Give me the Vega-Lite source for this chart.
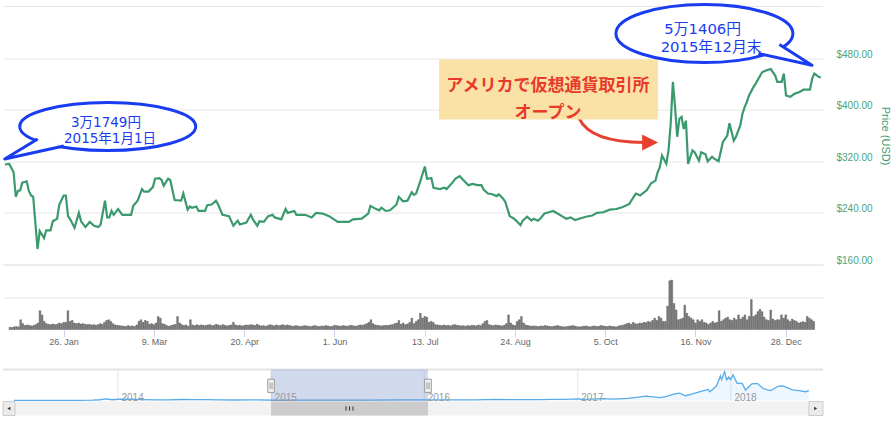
{
"$schema": "https://vega.github.io/schema/vega-lite/v6.json",
"padding": {"left": 0, "top": 2.5, "right": 0, "bottom": 0},
"background": "white",
"config": {"view": {"stroke": null}, "font": "Liberation Sans"},
"datasets": {
"price": [
{"t":"2015-01-01","p":315},{"t":"2015-01-03","p":316},{"t":"2015-01-05","p":303},{"t":"2015-01-06","p":265},{"t":"2015-01-07","p":274},{"t":"2015-01-08","p":275},{"t":"2015-01-09","p":287},{"t":"2015-01-11","p":289},{"t":"2015-01-12","p":274},{"t":"2015-01-13","p":267},{"t":"2015-01-14","p":265},{"t":"2015-01-16","p":184},{"t":"2015-01-17","p":212},{"t":"2015-01-19","p":201},{"t":"2015-01-20","p":213},{"t":"2015-01-22","p":213},{"t":"2015-01-23","p":227},{"t":"2015-01-25","p":231},{"t":"2015-01-26","p":253},{"t":"2015-01-28","p":267},{"t":"2015-01-29","p":267},{"t":"2015-01-30","p":235},{"t":"2015-01-31","p":230},
{"t":"2015-02-02","p":217},{"t":"2015-02-04","p":240},{"t":"2015-02-05","p":227},{"t":"2015-02-07","p":218},{"t":"2015-02-09","p":226},{"t":"2015-02-11","p":220},{"t":"2015-02-13","p":218},{"t":"2015-02-14","p":222},{"t":"2015-02-16","p":259},{"t":"2015-02-17","p":233},{"t":"2015-02-18","p":233},{"t":"2015-02-19","p":243},{"t":"2015-02-20","p":237},{"t":"2015-02-22","p":246},{"t":"2015-02-24","p":237},{"t":"2015-02-28","p":237},
{"t":"2015-03-01","p":251},{"t":"2015-03-03","p":259},{"t":"2015-03-05","p":277},{"t":"2015-03-06","p":273},{"t":"2015-03-08","p":273},{"t":"2015-03-10","p":280},{"t":"2015-03-11","p":293},{"t":"2015-03-13","p":294},{"t":"2015-03-14","p":291},{"t":"2015-03-15","p":282},{"t":"2015-03-17","p":293},{"t":"2015-03-18","p":291},{"t":"2015-03-20","p":260},{"t":"2015-03-23","p":259},{"t":"2015-03-24","p":270},{"t":"2015-03-26","p":245},{"t":"2015-03-27","p":250},{"t":"2015-03-28","p":248},{"t":"2015-03-30","p":250},{"t":"2015-03-31","p":243},
{"t":"2015-04-03","p":243},{"t":"2015-04-04","p":252},{"t":"2015-04-06","p":253},{"t":"2015-04-08","p":259},{"t":"2015-04-09","p":253},{"t":"2015-04-11","p":237},{"t":"2015-04-14","p":235},{"t":"2015-04-16","p":220},{"t":"2015-04-18","p":228},{"t":"2015-04-19","p":222},{"t":"2015-04-22","p":225},{"t":"2015-04-24","p":237},{"t":"2015-04-25","p":230},{"t":"2015-04-27","p":220},{"t":"2015-04-28","p":227},{"t":"2015-04-30","p":226},
{"t":"2015-05-02","p":235},{"t":"2015-05-04","p":237},{"t":"2015-05-05","p":233},{"t":"2015-05-08","p":230},{"t":"2015-05-10","p":246},{"t":"2015-05-11","p":240},{"t":"2015-05-14","p":243},{"t":"2015-05-15","p":237},{"t":"2015-05-19","p":237},{"t":"2015-05-22","p":233},{"t":"2015-05-24","p":240},{"t":"2015-05-27","p":239},{"t":"2015-05-30","p":235},
{"t":"2015-06-03","p":226},{"t":"2015-06-08","p":226},{"t":"2015-06-10","p":230},{"t":"2015-06-14","p":231},{"t":"2015-06-17","p":239},{"t":"2015-06-18","p":251},{"t":"2015-06-20","p":247},{"t":"2015-06-22","p":244},{"t":"2015-06-23","p":248},{"t":"2015-06-25","p":243},{"t":"2015-06-27","p":244},{"t":"2015-06-30","p":253},
{"t":"2015-07-01","p":265},{"t":"2015-07-03","p":258},{"t":"2015-07-05","p":259},{"t":"2015-07-07","p":272},{"t":"2015-07-08","p":268},{"t":"2015-07-09","p":270},{"t":"2015-07-11","p":290},{"t":"2015-07-13","p":312},{"t":"2015-07-14","p":293},{"t":"2015-07-16","p":294},{"t":"2015-07-17","p":279},{"t":"2015-07-20","p":277},{"t":"2015-07-22","p":279},{"t":"2015-07-23","p":277},{"t":"2015-07-26","p":288},{"t":"2015-07-27","p":293},{"t":"2015-07-29","p":297},{"t":"2015-07-31","p":290},
{"t":"2015-08-02","p":283},{"t":"2015-08-04","p":285},{"t":"2015-08-06","p":283},{"t":"2015-08-08","p":283},{"t":"2015-08-09","p":276},{"t":"2015-08-11","p":270},{"t":"2015-08-13","p":269},{"t":"2015-08-15","p":266},{"t":"2015-08-16","p":269},{"t":"2015-08-18","p":262},{"t":"2015-08-19","p":257},{"t":"2015-08-21","p":235},{"t":"2015-08-23","p":231},{"t":"2015-08-24","p":228},{"t":"2015-08-26","p":221},{"t":"2015-08-27","p":228},{"t":"2015-08-29","p":234},{"t":"2015-08-31","p":228},
{"t":"2015-09-01","p":231},{"t":"2015-09-03","p":228},{"t":"2015-09-04","p":231},{"t":"2015-09-06","p":239},{"t":"2015-09-08","p":241},{"t":"2015-09-10","p":243},{"t":"2015-09-12","p":239},{"t":"2015-09-14","p":235},{"t":"2015-09-16","p":231},{"t":"2015-09-18","p":233},{"t":"2015-09-20","p":229},{"t":"2015-09-22","p":231},{"t":"2015-09-25","p":234},{"t":"2015-09-28","p":236},{"t":"2015-09-30","p":240},
{"t":"2015-10-03","p":241},{"t":"2015-10-06","p":245},{"t":"2015-10-09","p":246},{"t":"2015-10-12","p":249},{"t":"2015-10-15","p":254},{"t":"2015-10-17","p":265},{"t":"2015-10-18","p":270},{"t":"2015-10-20","p":267},{"t":"2015-10-21","p":270},{"t":"2015-10-23","p":275},{"t":"2015-10-25","p":286},{"t":"2015-10-27","p":290},{"t":"2015-10-28","p":303},{"t":"2015-10-29","p":311},{"t":"2015-10-30","p":329},
{"t":"2015-11-01","p":316},{"t":"2015-11-02","p":337},{"t":"2015-11-03","p":378},{"t":"2015-11-04","p":443},{"t":"2015-11-05","p":404},{"t":"2015-11-06","p":358},{"t":"2015-11-07","p":386},{"t":"2015-11-08","p":389},{"t":"2015-11-09","p":370},{"t":"2015-11-10","p":383},{"t":"2015-11-11","p":316},{"t":"2015-11-13","p":337},{"t":"2015-11-14","p":334},{"t":"2015-11-16","p":321},{"t":"2015-11-17","p":334},{"t":"2015-11-19","p":331},{"t":"2015-11-20","p":320},{"t":"2015-11-22","p":327},{"t":"2015-11-23","p":324},{"t":"2015-11-25","p":320},{"t":"2015-11-27","p":350},{"t":"2015-11-29","p":360},{"t":"2015-11-30","p":379},
{"t":"2015-12-02","p":352},{"t":"2015-12-03","p":358},{"t":"2015-12-05","p":376},{"t":"2015-12-06","p":394},{"t":"2015-12-07","p":404},{"t":"2015-12-08","p":412},{"t":"2015-12-09","p":422},{"t":"2015-12-11","p":435},{"t":"2015-12-12","p":440},{"t":"2015-12-15","p":458},{"t":"2015-12-17","p":461},{"t":"2015-12-19","p":463},{"t":"2015-12-21","p":453},{"t":"2015-12-22","p":443},{"t":"2015-12-24","p":443},{"t":"2015-12-25","p":456},{"t":"2015-12-26","p":422},{"t":"2015-12-28","p":420},{"t":"2015-12-30","p":425},
{"t":"2016-01-01","p":427},{"t":"2016-01-03","p":431},{"t":"2016-01-06","p":431},{"t":"2016-01-07","p":448},{"t":"2016-01-08","p":456},{"t":"2016-01-10","p":451},{"t":"2016-01-11","p":450}
],
"vol": [
{"t":"2015-01-01","v":7},{"t":"2015-01-02","v":6},{"t":"2015-01-03","v":8},{"t":"2015-01-04","v":9},{"t":"2015-01-05","v":8},{"t":"2015-01-06","v":30},{"t":"2015-01-07","v":18},{"t":"2015-01-08","v":12},{"t":"2015-01-09","v":14},{"t":"2015-01-10","v":13},{"t":"2015-01-11","v":11},{"t":"2015-01-12","v":12},{"t":"2015-01-13","v":15},{"t":"2015-01-14","v":20},{"t":"2015-01-15","v":58},{"t":"2015-01-16","v":45},{"t":"2015-01-17","v":25},{"t":"2015-01-18","v":18},{"t":"2015-01-19","v":16},{"t":"2015-01-20","v":15},{"t":"2015-01-21","v":17},{"t":"2015-01-22","v":15},{"t":"2015-01-23","v":16},{"t":"2015-01-24","v":20},{"t":"2015-01-25","v":18},{"t":"2015-01-26","v":22},{"t":"2015-01-27","v":22},{"t":"2015-01-28","v":58},{"t":"2015-01-29","v":25},{"t":"2015-01-30","v":28},{"t":"2015-01-31","v":20},
{"t":"2015-02-01","v":18},{"t":"2015-02-02","v":20},{"t":"2015-02-03","v":17},{"t":"2015-02-04","v":18},{"t":"2015-02-05","v":16},{"t":"2015-02-06","v":15},{"t":"2015-02-07","v":16},{"t":"2015-02-08","v":14},{"t":"2015-02-09","v":15},{"t":"2015-02-10","v":13},{"t":"2015-02-11","v":15},{"t":"2015-02-12","v":18},{"t":"2015-02-13","v":16},{"t":"2015-02-14","v":22},{"t":"2015-02-15","v":28},{"t":"2015-02-16","v":30},{"t":"2015-02-17","v":25},{"t":"2015-02-18","v":18},{"t":"2015-02-19","v":14},{"t":"2015-02-20","v":13},{"t":"2015-02-21","v":12},{"t":"2015-02-22","v":11},{"t":"2015-02-23","v":10},{"t":"2015-02-24","v":9},{"t":"2015-02-25","v":12},{"t":"2015-02-26","v":10},{"t":"2015-02-27","v":11},{"t":"2015-02-28","v":9},
{"t":"2015-03-01","v":14},{"t":"2015-03-02","v":25},{"t":"2015-03-03","v":30},{"t":"2015-03-04","v":22},{"t":"2015-03-05","v":28},{"t":"2015-03-06","v":25},{"t":"2015-03-07","v":16},{"t":"2015-03-08","v":18},{"t":"2015-03-09","v":15},{"t":"2015-03-10","v":20},{"t":"2015-03-11","v":40},{"t":"2015-03-12","v":35},{"t":"2015-03-13","v":18},{"t":"2015-03-14","v":16},{"t":"2015-03-15","v":12},{"t":"2015-03-16","v":10},{"t":"2015-03-17","v":12},{"t":"2015-03-18","v":14},{"t":"2015-03-19","v":16},{"t":"2015-03-20","v":40},{"t":"2015-03-21","v":20},{"t":"2015-03-22","v":15},{"t":"2015-03-23","v":12},{"t":"2015-03-24","v":14},{"t":"2015-03-25","v":10},{"t":"2015-03-26","v":30},{"t":"2015-03-27","v":14},{"t":"2015-03-28","v":12},{"t":"2015-03-29","v":15},{"t":"2015-03-30","v":12},{"t":"2015-03-31","v":14},
{"t":"2015-04-01","v":13},{"t":"2015-04-02","v":12},{"t":"2015-04-03","v":14},{"t":"2015-04-04","v":15},{"t":"2015-04-05","v":12},{"t":"2015-04-06","v":13},{"t":"2015-04-07","v":16},{"t":"2015-04-08","v":14},{"t":"2015-04-09","v":12},{"t":"2015-04-10","v":15},{"t":"2015-04-11","v":13},{"t":"2015-04-12","v":11},{"t":"2015-04-13","v":12},{"t":"2015-04-14","v":14},{"t":"2015-04-15","v":22},{"t":"2015-04-16","v":14},{"t":"2015-04-17","v":12},{"t":"2015-04-18","v":13},{"t":"2015-04-19","v":11},{"t":"2015-04-20","v":12},{"t":"2015-04-21","v":14},{"t":"2015-04-22","v":13},{"t":"2015-04-23","v":15},{"t":"2015-04-24","v":14},{"t":"2015-04-25","v":12},{"t":"2015-04-26","v":16},{"t":"2015-04-27","v":13},{"t":"2015-04-28","v":11},{"t":"2015-04-29","v":12},{"t":"2015-04-30","v":10},
{"t":"2015-05-01","v":12},{"t":"2015-05-02","v":15},{"t":"2015-05-03","v":13},{"t":"2015-05-04","v":11},{"t":"2015-05-05","v":14},{"t":"2015-05-06","v":12},{"t":"2015-05-07","v":13},{"t":"2015-05-08","v":15},{"t":"2015-05-09","v":12},{"t":"2015-05-10","v":14},{"t":"2015-05-11","v":13},{"t":"2015-05-12","v":11},{"t":"2015-05-13","v":10},{"t":"2015-05-14","v":12},{"t":"2015-05-15","v":11},{"t":"2015-05-16","v":9},{"t":"2015-05-17","v":10},{"t":"2015-05-18","v":12},{"t":"2015-05-19","v":11},{"t":"2015-05-20","v":10},{"t":"2015-05-21","v":9},{"t":"2015-05-22","v":11},{"t":"2015-05-23","v":12},{"t":"2015-05-24","v":10},{"t":"2015-05-25","v":9},{"t":"2015-05-26","v":11},{"t":"2015-05-27","v":10},{"t":"2015-05-28","v":12},{"t":"2015-05-29","v":11},{"t":"2015-05-30","v":9},{"t":"2015-05-31","v":10},
{"t":"2015-06-01","v":13},{"t":"2015-06-02","v":12},{"t":"2015-06-03","v":11},{"t":"2015-06-04","v":10},{"t":"2015-06-05","v":12},{"t":"2015-06-06","v":11},{"t":"2015-06-07","v":10},{"t":"2015-06-08","v":12},{"t":"2015-06-09","v":13},{"t":"2015-06-10","v":11},{"t":"2015-06-11","v":10},{"t":"2015-06-12","v":12},{"t":"2015-06-13","v":14},{"t":"2015-06-14","v":13},{"t":"2015-06-15","v":15},{"t":"2015-06-16","v":18},{"t":"2015-06-17","v":22},{"t":"2015-06-18","v":30},{"t":"2015-06-19","v":18},{"t":"2015-06-20","v":14},{"t":"2015-06-21","v":13},{"t":"2015-06-22","v":12},{"t":"2015-06-23","v":11},{"t":"2015-06-24","v":12},{"t":"2015-06-25","v":13},{"t":"2015-06-26","v":12},{"t":"2015-06-27","v":14},{"t":"2015-06-28","v":15},{"t":"2015-06-29","v":18},{"t":"2015-06-30","v":20},
{"t":"2015-07-01","v":28},{"t":"2015-07-02","v":16},{"t":"2015-07-03","v":20},{"t":"2015-07-04","v":15},{"t":"2015-07-05","v":17},{"t":"2015-07-06","v":22},{"t":"2015-07-07","v":35},{"t":"2015-07-08","v":18},{"t":"2015-07-09","v":25},{"t":"2015-07-10","v":30},{"t":"2015-07-11","v":50},{"t":"2015-07-12","v":35},{"t":"2015-07-13","v":40},{"t":"2015-07-14","v":38},{"t":"2015-07-15","v":22},{"t":"2015-07-16","v":25},{"t":"2015-07-17","v":22},{"t":"2015-07-18","v":15},{"t":"2015-07-19","v":14},{"t":"2015-07-20","v":13},{"t":"2015-07-21","v":12},{"t":"2015-07-22","v":14},{"t":"2015-07-23","v":12},{"t":"2015-07-24","v":13},{"t":"2015-07-25","v":11},{"t":"2015-07-26","v":14},{"t":"2015-07-27","v":15},{"t":"2015-07-28","v":13},{"t":"2015-07-29","v":12},{"t":"2015-07-30","v":11},{"t":"2015-07-31","v":12},
{"t":"2015-08-01","v":10},{"t":"2015-08-02","v":12},{"t":"2015-08-03","v":11},{"t":"2015-08-04","v":13},{"t":"2015-08-05","v":12},{"t":"2015-08-06","v":11},{"t":"2015-08-07","v":14},{"t":"2015-08-08","v":12},{"t":"2015-08-09","v":18},{"t":"2015-08-10","v":25},{"t":"2015-08-11","v":28},{"t":"2015-08-12","v":15},{"t":"2015-08-13","v":13},{"t":"2015-08-14","v":12},{"t":"2015-08-15","v":14},{"t":"2015-08-16","v":13},{"t":"2015-08-17","v":12},{"t":"2015-08-18","v":11},{"t":"2015-08-19","v":13},{"t":"2015-08-20","v":18},{"t":"2015-08-21","v":45},{"t":"2015-08-22","v":20},{"t":"2015-08-23","v":14},{"t":"2015-08-24","v":12},{"t":"2015-08-25","v":25},{"t":"2015-08-26","v":30},{"t":"2015-08-27","v":40},{"t":"2015-08-28","v":20},{"t":"2015-08-29","v":14},{"t":"2015-08-30","v":12},{"t":"2015-08-31","v":11},
{"t":"2015-09-01","v":10},{"t":"2015-09-02","v":11},{"t":"2015-09-03","v":10},{"t":"2015-09-04","v":9},{"t":"2015-09-05","v":11},{"t":"2015-09-06","v":10},{"t":"2015-09-07","v":12},{"t":"2015-09-08","v":11},{"t":"2015-09-09","v":10},{"t":"2015-09-10","v":9},{"t":"2015-09-11","v":10},{"t":"2015-09-12","v":11},{"t":"2015-09-13","v":12},{"t":"2015-09-14","v":10},{"t":"2015-09-15","v":9},{"t":"2015-09-16","v":8},{"t":"2015-09-17","v":9},{"t":"2015-09-18","v":10},{"t":"2015-09-19","v":11},{"t":"2015-09-20","v":12},{"t":"2015-09-21","v":10},{"t":"2015-09-22","v":9},{"t":"2015-09-23","v":8},{"t":"2015-09-24","v":9},{"t":"2015-09-25","v":10},{"t":"2015-09-26","v":11},{"t":"2015-09-27","v":9},{"t":"2015-09-28","v":8},{"t":"2015-09-29","v":10},{"t":"2015-09-30","v":11},
{"t":"2015-10-01","v":9},{"t":"2015-10-02","v":10},{"t":"2015-10-03","v":12},{"t":"2015-10-04","v":11},{"t":"2015-10-05","v":10},{"t":"2015-10-06","v":9},{"t":"2015-10-07","v":11},{"t":"2015-10-08","v":10},{"t":"2015-10-09","v":9},{"t":"2015-10-10","v":8},{"t":"2015-10-11","v":10},{"t":"2015-10-12","v":12},{"t":"2015-10-13","v":13},{"t":"2015-10-14","v":15},{"t":"2015-10-15","v":18},{"t":"2015-10-16","v":20},{"t":"2015-10-17","v":16},{"t":"2015-10-18","v":22},{"t":"2015-10-19","v":18},{"t":"2015-10-20","v":17},{"t":"2015-10-21","v":20},{"t":"2015-10-22","v":19},{"t":"2015-10-23","v":22},{"t":"2015-10-24","v":21},{"t":"2015-10-25","v":25},{"t":"2015-10-26","v":23},{"t":"2015-10-27","v":28},{"t":"2015-10-28","v":35},{"t":"2015-10-29","v":28},{"t":"2015-10-30","v":40},{"t":"2015-10-31","v":35},
{"t":"2015-11-01","v":25},{"t":"2015-11-02","v":25},{"t":"2015-11-03","v":72},{"t":"2015-11-04","v":150},{"t":"2015-11-05","v":152},{"t":"2015-11-06","v":80},{"t":"2015-11-07","v":60},{"t":"2015-11-08","v":30},{"t":"2015-11-09","v":32},{"t":"2015-11-10","v":35},{"t":"2015-11-11","v":75},{"t":"2015-11-12","v":50},{"t":"2015-11-13","v":40},{"t":"2015-11-14","v":35},{"t":"2015-11-15","v":30},{"t":"2015-11-16","v":20},{"t":"2015-11-17","v":30},{"t":"2015-11-18","v":25},{"t":"2015-11-19","v":30},{"t":"2015-11-20","v":22},{"t":"2015-11-21","v":20},{"t":"2015-11-22","v":15},{"t":"2015-11-23","v":20},{"t":"2015-11-24","v":25},{"t":"2015-11-25","v":20},{"t":"2015-11-26","v":22},{"t":"2015-11-27","v":58},{"t":"2015-11-28","v":25},{"t":"2015-11-29","v":30},{"t":"2015-11-30","v":35},
{"t":"2015-12-01","v":38},{"t":"2015-12-02","v":30},{"t":"2015-12-03","v":28},{"t":"2015-12-04","v":35},{"t":"2015-12-05","v":30},{"t":"2015-12-06","v":45},{"t":"2015-12-07","v":32},{"t":"2015-12-08","v":38},{"t":"2015-12-09","v":45},{"t":"2015-12-10","v":30},{"t":"2015-12-11","v":40},{"t":"2015-12-12","v":92},{"t":"2015-12-13","v":40},{"t":"2015-12-14","v":45},{"t":"2015-12-15","v":55},{"t":"2015-12-16","v":62},{"t":"2015-12-17","v":55},{"t":"2015-12-18","v":38},{"t":"2015-12-19","v":30},{"t":"2015-12-20","v":28},{"t":"2015-12-21","v":60},{"t":"2015-12-22","v":32},{"t":"2015-12-23","v":28},{"t":"2015-12-24","v":30},{"t":"2015-12-25","v":30},{"t":"2015-12-26","v":45},{"t":"2015-12-27","v":35},{"t":"2015-12-28","v":45},{"t":"2015-12-29","v":30},{"t":"2015-12-30","v":25},{"t":"2015-12-31","v":32},
{"t":"2016-01-01","v":28},{"t":"2016-01-02","v":25},{"t":"2016-01-03","v":20},{"t":"2016-01-04","v":22},{"t":"2016-01-05","v":24},{"t":"2016-01-06","v":22},{"t":"2016-01-07","v":40},{"t":"2016-01-08","v":35},{"t":"2016-01-09","v":30},{"t":"2016-01-10","v":25}
],
"nav": [
{"t":"2013-04-28","p":135},{"t":"2013-06-01","p":122},{"t":"2013-07-05","p":68},{"t":"2013-08-01","p":105},{"t":"2013-09-01","p":140},{"t":"2013-10-01","p":125},{"t":"2013-11-01","p":206},{"t":"2013-11-18","p":500},{"t":"2013-12-04","p":1150},{"t":"2013-12-18","p":520},{"t":"2014-01-05","p":950},{"t":"2014-02-01","p":830},{"t":"2014-03-01","p":560},{"t":"2014-04-10","p":360},{"t":"2014-05-01","p":450},{"t":"2014-06-03","p":660},{"t":"2014-07-01","p":640},{"t":"2014-08-01","p":590},{"t":"2014-09-01","p":480},{"t":"2014-10-05","p":320},{"t":"2014-11-12","p":420},{"t":"2014-12-01","p":380},{"t":"2015-01-14","p":180},{"t":"2015-03-10","p":290},{"t":"2015-06-01","p":230},{"t":"2015-07-12","p":310},{"t":"2015-08-24","p":210},{"t":"2015-11-04","p":400},{"t":"2015-12-16","p":460},{"t":"2016-02-01","p":370},{"t":"2016-03-01","p":430},{"t":"2016-05-01","p":450},{"t":"2016-06-17","p":750},{"t":"2016-08-02","p":540},{"t":"2016-10-01","p":610},{"t":"2016-11-01","p":730},{"t":"2016-12-01","p":750},{"t":"2017-01-04","p":1150},{"t":"2017-01-11","p":780},{"t":"2017-02-01","p":990},{"t":"2017-03-03","p":1280},{"t":"2017-03-25","p":930},{"t":"2017-05-01","p":1420},{"t":"2017-05-25","p":2300},{"t":"2017-06-12","p":2950},{"t":"2017-07-16","p":1930},{"t":"2017-08-01","p":2750},{"t":"2017-08-17","p":4300},{"t":"2017-09-01","p":4900},{"t":"2017-09-15","p":3200},{"t":"2017-10-01","p":4400},{"t":"2017-10-20","p":6000},{"t":"2017-11-08","p":7400},{"t":"2017-11-12","p":5900},{"t":"2017-11-28","p":9900},{"t":"2017-12-07","p":16500},{"t":"2017-12-10","p":14000},{"t":"2017-12-17","p":19500},{"t":"2017-12-22","p":13800},{"t":"2017-12-27","p":15800},{"t":"2017-12-31","p":14000},{"t":"2018-01-06","p":17200},{"t":"2018-01-16","p":11500},{"t":"2018-01-28","p":11500},{"t":"2018-02-05","p":7000},{"t":"2018-02-20","p":11200},{"t":"2018-03-05","p":11500},{"t":"2018-03-18","p":8200},{"t":"2018-03-31","p":6900},{"t":"2018-04-06","p":6600},{"t":"2018-04-24","p":9700},{"t":"2018-05-05","p":9800},{"t":"2018-05-28","p":7100},{"t":"2018-06-12","p":6600},{"t":"2018-06-28","p":5900},{"t":"2018-07-06","p":6700}
],
"years": [
{"d":"2014-01-01","l":"2014"},{"d":"2015-01-01","l":"2015"},{"d":"2016-01-01","l":"2016"},{"d":"2017-01-01","l":"2017"},{"d":"2018-01-01","l":"2018"}
]
},
"vconcat": [
{
"width": 820, "height": 258,
"layer": [
{"data": {"name": "price"},
 "mark": {"type": "line", "color": "#3b9a6d", "strokeWidth": 2.2},
 "encoding": {
  "x": {"field": "t", "type": "temporal", "scale": {"domain": [{"year":2014,"month":12,"date":31,"hours":3},{"year":2016,"month":1,"date":12}]}, "axis": null},
  "y": {"field": "p", "type": "quantitative", "scale": {"domain": [160, 560], "nice": false},
   "axis": {"orient": "right", "values": [160,240,320,400,480], "format": "$.2f", "grid": true, "gridColor": "#e6e6e6", "domain": false, "ticks": false, "labelPadding": 13, "labelFontSize": 10, "labelColor": "#4aa57c", "labelBaseline": "alphabetic", "labelOffset": -1, "labelFlush": false, "title": "Price (USD)", "titleColor": "#3f9c72", "titleFontSize": 11, "titleFontWeight": "normal", "titlePadding": 7}}
 }},
{"data": {"values": [{}]},
 "mark": {"type": "rule", "color": "#e6e6e6", "strokeWidth": 1},
 "encoding": {"y": {"datum": 560, "type": "quantitative"}}},
{"data": {"values": [{}]},
 "mark": {"type": "point", "shape": "M-0.37,-0.14C-0.30,0.01,-0.10,0.10,0.28,0.10", "size": 40000, "filled": false, "color": "#e8402f", "strokeWidth": 3, "opacity": 1},
 "encoding": {"x": {"datum": {"year":2015,"month":10,"date":8,"hours":22}, "type": "temporal"}, "y": {"datum": 364.7, "type": "quantitative"}}},
{"data": {"values": [{}]},
 "mark": {"type": "point", "shape": "M0.26,0.02L0.42,0.10L0.26,0.18Z", "size": 40000, "filled": true, "color": "#e8402f", "strokeWidth": 0, "opacity": 1},
 "encoding": {"x": {"datum": {"year":2015,"month":10,"date":8,"hours":22}, "type": "temporal"}, "y": {"datum": 364.7, "type": "quantitative"}}},
{"data": {"values": [{}]},
 "mark": {"type": "rect", "fill": "#fae2a6"},
 "encoding": {"x": {"datum": {"year":2015,"month":7,"date":19,"hours":12}, "type": "temporal"}, "x2": {"datum": {"year":2015,"month":10,"date":28,"hours":5}}, "y": {"datum": 477.8, "type": "quantitative"}, "y2": {"datum": 384.8}}},
{"data": {"values": [{}]},
 "mark": {"type": "text", "text": "アメリカで仮想通貨取引所\nオープン", "lineBreak": "\n", "lineHeight": 27, "font": "Noto Sans CJK JP", "fontSize": 17, "fontWeight": "bold", "color": "#e9392b", "align": "center", "baseline": "middle"},
 "encoding": {"x": {"datum": {"year":2015,"month":9,"date":7,"hours":14}, "type": "temporal"}, "y": {"datum": 437, "type": "quantitative"}}},
{"data": {"values": [{}]},
 "mark": {"type": "point", "shape": "M0.88,0C0.88,0.1326,0.486,0.24,0,0.24C-0.486,0.24,-0.88,0.1326,-0.88,0C-0.88,-0.1326,-0.486,-0.24,0,-0.24C0.486,-0.24,0.88,-0.1326,0.88,0Z", "size": 40000, "filled": true, "fill": "#ffffff", "stroke": "#1a3cf0", "strokeWidth": 3, "strokeJoin": "round", "opacity": 1},
 "encoding": {"x": {"datum": {"year":2015,"month":2,"date":17,"hours":6}, "type": "temporal"}, "y": {"datum": 374, "type": "quantitative"}}},
{"data": {"values": [{}]},
 "mark": {"type": "point", "shape": "M-0.70,0.125L-1.03,0.325L-0.44,0.195", "size": 40000, "filled": true, "fill": "#ffffff", "stroke": "#1a3cf0", "strokeWidth": 3, "strokeJoin": "round", "opacity": 1},
 "encoding": {"x": {"datum": {"year":2015,"month":2,"date":17,"hours":6}, "type": "temporal"}, "y": {"datum": 374, "type": "quantitative"}}},
{"data": {"values": [{}]},
 "mark": {"type": "text", "text": "3万1749円", "font": "DejaVu Sans, Noto Sans CJK JP", "fontSize": 13.5, "color": "#1a3cf0", "align": "center", "baseline": "middle"},
 "encoding": {"x": {"datum": {"year":2015,"month":2,"date":16,"hours":11}, "type": "temporal"}, "y": {"datum": 379.4, "type": "quantitative"}}},
{"data": {"values": [{}]},
 "mark": {"type": "text", "text": "2015年1月1日", "font": "DejaVu Sans, Noto Sans CJK JP", "fontSize": 13.5, "color": "#1a3cf0", "align": "center", "baseline": "middle"},
 "encoding": {"x": {"datum": {"year":2015,"month":2,"date":18,"hours":7}, "type": "temporal"}, "y": {"datum": 354.6, "type": "quantitative"}}},
{"data": {"values": [{}]},
 "mark": {"type": "point", "shape": "M0.885,0C0.885,0.1602,0.4888,0.29,0,0.29C-0.4888,0.29,-0.885,0.1602,-0.885,0C-0.885,-0.1602,-0.4888,-0.29,0,-0.29C0.4888,-0.29,0.885,-0.1602,0.885,0Z", "size": 40000, "filled": true, "fill": "#ffffff", "stroke": "#1a3cf0", "strokeWidth": 3, "strokeJoin": "round", "opacity": 1},
 "encoding": {"x": {"datum": {"year":2015,"month":11,"date":18,"hours":12}, "type": "temporal"}, "y": {"datum": 518.1, "type": "quantitative"}}},
{"data": {"values": [{}]},
 "mark": {"type": "point", "shape": "M0.75,0.11L1.075,0.318L0.54,0.20", "size": 40000, "filled": true, "fill": "#ffffff", "stroke": "#1a3cf0", "strokeWidth": 3, "strokeJoin": "round", "opacity": 1},
 "encoding": {"x": {"datum": {"year":2015,"month":11,"date":18,"hours":12}, "type": "temporal"}, "y": {"datum": 518.1, "type": "quantitative"}}},
{"data": {"values": [{}]},
 "mark": {"type": "text", "text": "5万1406円", "font": "DejaVu Sans, Noto Sans CJK JP", "fontSize": 14.8, "color": "#1a3cf0", "align": "center", "baseline": "middle"},
 "encoding": {"x": {"datum": {"year":2015,"month":11,"date":17,"hours":17}, "type": "temporal"}, "y": {"datum": 523.3, "type": "quantitative"}}},
{"data": {"values": [{}]},
 "mark": {"type": "text", "text": "2015年12月末", "font": "DejaVu Sans, Noto Sans CJK JP", "fontSize": 14.8, "color": "#1a3cf0", "align": "center", "baseline": "middle"},
 "encoding": {"x": {"datum": {"year":2015,"month":11,"date":21,"hours":14}, "type": "temporal"}, "y": {"datum": 496.0, "type": "quantitative"}}}
]
},
{
"width": 820, "height": 65,
"data": {"name": "vol"},
"mark": {"type": "bar", "size": 1.7, "fill": "#7d7d7d", "stroke": "#4d4d4d", "strokeWidth": 0.4},
"encoding": {
 "x": {"field": "t", "type": "temporal", "scale": {"domain": [{"year":2014,"month":12,"date":31,"hours":3},{"year":2016,"month":1,"date":12}]},
  "axis": {"values": [{"year":2015,"month":1,"date":26},{"year":2015,"month":3,"date":9},{"year":2015,"month":4,"date":20},{"year":2015,"month":6,"date":1},{"year":2015,"month":7,"date":13},{"year":2015,"month":8,"date":24},{"year":2015,"month":10,"date":5},{"year":2015,"month":11,"date":16},{"year":2015,"month":12,"date":28}],
   "format": "%-d. %b", "labelFontSize": 9, "labelColor": "#666666", "tickColor": "#ccd6eb", "tickSize": 7, "domain": false, "grid": false, "labelPadding": 1, "title": null, "labelFlush": false, "labelOverlap": false}},
 "y": {"field": "v", "type": "quantitative", "scale": {"domain": [0, 200], "nice": false},
  "axis": {"values": [100, 200], "grid": true, "gridColor": "#e6e6e6", "labels": false, "ticks": false, "domain": false, "title": null}}
}
},
{
"width": 820, "height": 86,
"layer": [
{"data": {"name": "years"},
 "mark": {"type": "rule", "color": "#e6e6e6", "strokeWidth": 1},
 "encoding": {"x": {"field": "d", "type": "temporal", "scale": {"domain": [{"year":2013,"month":4,"date":2},{"year":2018,"month":8,"date":8,"hours":14}]}, "axis": null}, "y": {"datum": 0, "type": "quantitative", "scale": {"domain": [-10080, 47712], "nice": false}, "axis": null}, "y2": {"datum": 20830}}},
{"data": {"name": "nav"},
 "mark": {"type": "area", "color": "#5aaee8", "opacity": 0.1},
 "encoding": {"x": {"field": "t", "type": "temporal"}, "y": {"field": "p", "type": "quantitative"}, "y2": {"datum": 0}}},
{"data": {"name": "nav"},
 "mark": {"type": "line", "color": "#58acea", "strokeWidth": 1.3},
 "encoding": {"x": {"field": "t", "type": "temporal"}, "y": {"field": "p", "type": "quantitative"}}},
{"data": {"values": [{}]},
 "mark": {"type": "rect", "fill": "#e3e3e3"},
 "encoding": {"x": {"datum": {"year":2013,"month":4,"date":2}, "type": "temporal"}, "x2": {"datum": {"year":2018,"month":8,"date":8,"hours":14}}, "y": {"datum": 21502, "type": "quantitative"}, "y2": {"datum": 20158}}},
{"data": {"values": [{}]},
 "mark": {"type": "rect", "fill": "#6685c2", "opacity": 0.3},
 "encoding": {"x": {"datum": {"year":2015,"month":1,"date":1}, "type": "temporal"}, "x2": {"datum": {"year":2016,"month":1,"date":10}}, "y": {"datum": -672, "type": "quantitative"}, "y2": {"datum": 20830}}},
{"data": {"values": [{}]},
 "mark": {"type": "rect", "fill": "#f2f2f2"},
 "encoding": {"x": {"datum": {"year":2013,"month":4,"date":2}, "type": "temporal"}, "x2": {"datum": {"year":2018,"month":8,"date":8,"hours":14}}, "y": {"datum": -10080, "type": "quantitative"}, "y2": {"datum": -672}}},
{"data": {"values": [{}]},
 "mark": {"type": "rect", "fill": "#cccccc"},
 "encoding": {"x": {"datum": {"year":2015,"month":1,"date":1}, "type": "temporal"}, "x2": {"datum": {"year":2016,"month":1,"date":10}}, "y": {"datum": -10080, "type": "quantitative"}, "y2": {"datum": -672}}},
{"data": {"values": [{}]},
 "mark": {"type": "rect", "fill": "#ebebeb", "stroke": "#cccccc", "strokeWidth": 1},
 "encoding": {"x": {"datum": {"year":2013,"month":4,"date":2}, "type": "temporal"}, "x2": {"datum": {"year":2013,"month":4,"date":30,"hours":14}}, "y": {"datum": -10080, "type": "quantitative"}, "y2": {"datum": -672}}},
{"data": {"values": [{}]},
 "mark": {"type": "rect", "fill": "#ebebeb", "stroke": "#cccccc", "strokeWidth": 1},
 "encoding": {"x": {"datum": {"year":2018,"month":7,"date":6}, "type": "temporal"}, "x2": {"datum": {"year":2018,"month":8,"date":8,"hours":14}}, "y": {"datum": -10080, "type": "quantitative"}, "y2": {"datum": -672}}},
{"data": {"values": [{}]},
 "mark": {"type": "point", "shape": "triangle-left", "size": 12, "filled": true, "color": "#333333", "opacity": 1},
 "encoding": {"x": {"datum": {"year":2013,"month":4,"date":16}, "type": "temporal"}, "y": {"datum": -5376, "type": "quantitative"}}},
{"data": {"values": [{}]},
 "mark": {"type": "point", "shape": "triangle-right", "size": 12, "filled": true, "color": "#333333", "opacity": 1},
 "encoding": {"x": {"datum": {"year":2018,"month":7,"date":22}, "type": "temporal"}, "y": {"datum": -5376, "type": "quantitative"}}},
{"data": {"values": [{}]},
 "mark": {"type": "point", "shape": "M-1,-0.6L-1,0.6M0,-0.6L0,0.6M1,-0.6L1,0.6", "size": 49, "filled": false, "color": "#333333", "strokeWidth": 1, "opacity": 1},
 "encoding": {"x": {"datum": {"year":2015,"month":7,"date":7}, "type": "temporal"}, "y": {"datum": -5376, "type": "quantitative"}}},
{"data": {"values": [{"d":"2015-01-01"},{"d":"2016-01-10"}]},
 "mark": {"type": "point", "shape": "M-0.33,-0.66L0.33,-0.66L0.33,0.66L-0.33,0.66Z M-0.1,-0.33L-0.1,0.33 M0.1,-0.33L0.1,0.33", "size": 400, "filled": true, "fill": "#f2f2f2", "stroke": "#999999", "strokeWidth": 1, "opacity": 1},
 "encoding": {"x": {"field": "d", "type": "temporal"}, "y": {"datum": 9878, "type": "quantitative"}}},
{"data": {"name": "years"},
 "mark": {"type": "text", "align": "left", "baseline": "alphabetic", "dx": 3.5, "fontSize": 10, "color": "#999999"},
 "encoding": {"x": {"field": "d", "type": "temporal"}, "y": {"datum": 0, "type": "quantitative"}, "text": {"field": "l"}}}
]
}
],
"spacing": 0,
"bounds": "flush"
}
